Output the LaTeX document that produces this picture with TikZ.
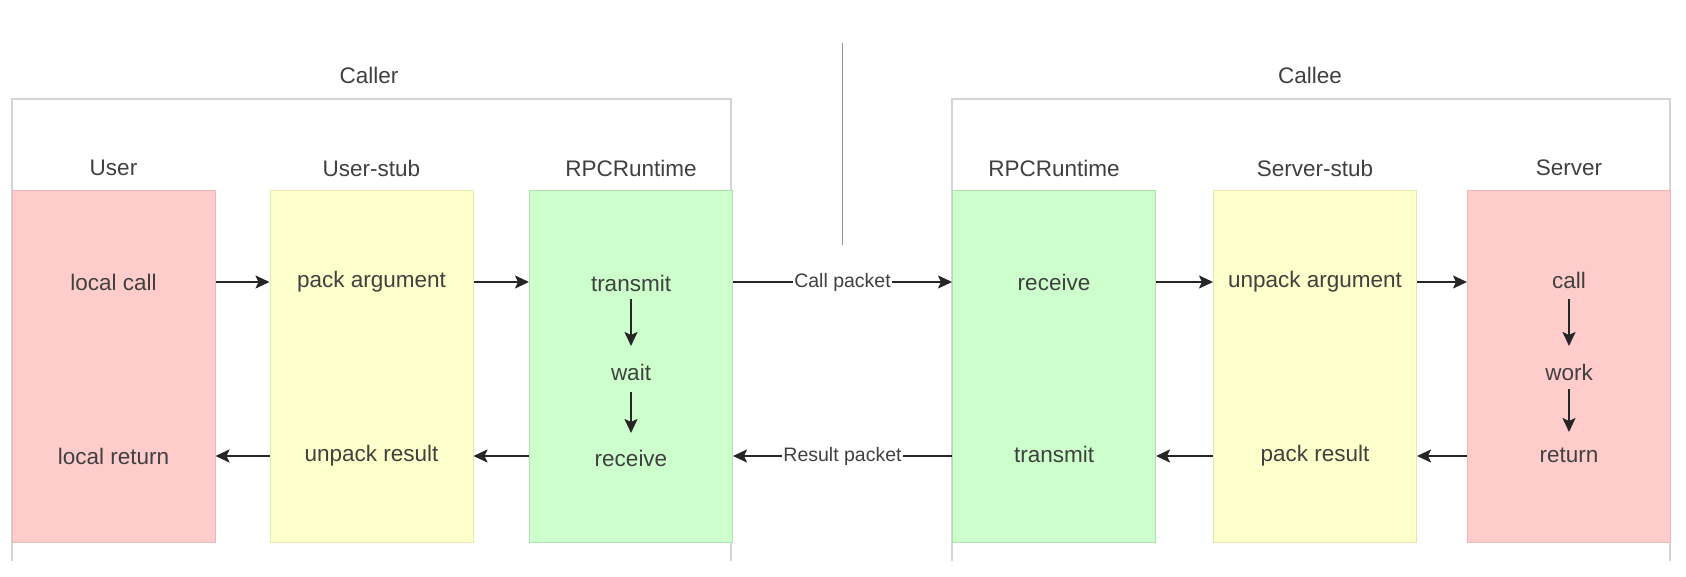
\documentclass[tikz,border=0pt]{standalone}
\usepackage{fontspec}
\setmainfont{Liberation Sans}
\usetikzlibrary{arrows.meta,calc}
\definecolor{redfill}{HTML}{FFCCCC}
\definecolor{redline}{HTML}{E8B8B8}
\definecolor{yelfill}{HTML}{FFFFCC}
\definecolor{yelline}{HTML}{E6E6B0}
\definecolor{grnfill}{HTML}{CCFFCC}
\definecolor{grnline}{HTML}{B0E0B0}
\definecolor{frameline}{HTML}{D4D4D4}
\definecolor{txt}{HTML}{404040}
\tikzset{
  blk/.style={draw, line width=1pt, minimum width=203pt, minimum height=351pt, inner sep=0pt},
  redblk/.style={blk, fill=redfill, draw=redline},
  yelblk/.style={blk, fill=yelfill, draw=yelline},
  grnblk/.style={blk, fill=grnfill, draw=grnline},
  frame/.style={draw=frameline, line width=1.5pt},
  lbl/.style={font=\fontsize{22.5}{26}\selectfont, text=txt, inner sep=2pt},
  elbl/.style={font=\fontsize{19.5}{23}\selectfont, text=txt, fill=white, inner sep=1pt},
  arr/.style={line width=2pt, black!85, -{Stealth[length=14pt,width=13pt,inset=3pt]}},
}
\begin{document}
\begin{tikzpicture}[x=1pt,y=-1pt]
\useasboundingbox (0,0) rectangle (1686,577);
\fill[white] (0,0) rectangle (1686,577);
% frames
\draw[frame] (12,561) -- (12,99) -- (731,99) -- (731,561);
\draw[frame] (952,561) -- (952,99) -- (1670,99) -- (1670,561);
\draw[frameline!70!black, line width=1pt] (842,43) -- (842,245);
\node[lbl] (caller) at (369,75) {Caller};
\node[lbl] (callee) at (1310,75) {Callee};
% blocks
\node[redblk] (user) at (113.5,366.5) {};
\node[yelblk] (ustub) at (371.5,366.5) {};
\node[grnblk] (lrt) at (631,366.5) {};
\node[grnblk] (rrt) at (1054,366.5) {};
\node[yelblk] (sstub) at (1315,366.5) {};
\node[redblk] (srv) at (1569,366.5) {};
% headings
\node[lbl] (h1) at (113.5,168) {User};
\node[lbl] (h2) at (371.5,168) {User-stub};
\node[lbl] (h3) at (631,168) {RPCRuntime};
\node[lbl] (h4) at (1054,168) {RPCRuntime};
\node[lbl] (h5) at (1315,168) {Server-stub};
\node[lbl] (h6) at (1569,168) {Server};
% texts
\node[lbl] (lc) at (113.5,282) {local call};
\node[lbl] (lr) at (113.5,456) {local return};
\node[lbl] (pa) at (371.5,282) {pack argument};
\node[lbl] (ur) at (371.5,456) {unpack result};
\node[lbl] (tr1) at (631,283) {transmit};
\node[lbl] (wt) at (631,372) {wait};
\node[lbl] (rc1) at (631,458) {receive};
\node[lbl] (rc2) at (1054,282) {receive};
\node[lbl] (tr2) at (1054,454) {transmit};
\node[lbl] (ua) at (1315,282) {unpack argument};
\node[lbl] (pr) at (1315,456) {pack result};
\node[lbl] (cl) at (1569,280) {call};
\node[lbl] (wk) at (1569,372) {work};
\node[lbl] (rt) at (1569,455) {return};
% horizontal arrows
\draw[arr] (user.east |- lc) -- (ustub.west |- lc);
\draw[arr] (ustub.east |- lc) -- (lrt.west |- lc);
\draw[arr] (lrt.east |- lc) -- node[elbl] {Call packet} (rrt.west |- lc);
\draw[arr] (rrt.east |- lc) -- (sstub.west |- lc);
\draw[arr] (sstub.east |- lc) -- (srv.west |- lc);
\draw[arr] (srv.west |- lr) -- (sstub.east |- lr);
\draw[arr] (sstub.west |- lr) -- (rrt.east |- lr);
\draw[arr] (rrt.west |- lr) -- node[elbl] {Result packet} (lrt.east |- lr);
\draw[arr] (lrt.west |- lr) -- (ustub.east |- lr);
\draw[arr] (ustub.west |- lr) -- (user.east |- lr);
% vertical arrows
\draw[arr] ($(tr1)+(0,16)$) -- ($(wt)+(0,-26)$);
\draw[arr] ($(wt)+(0,20)$) -- ($(rc1)+(0,-25)$);
\draw[arr] ($(cl)+(0,19)$) -- ($(wk)+(0,-26)$);
\draw[arr] ($(wk)+(0,17)$) -- ($(rt)+(0,-23)$);
\end{tikzpicture}
\end{document}
